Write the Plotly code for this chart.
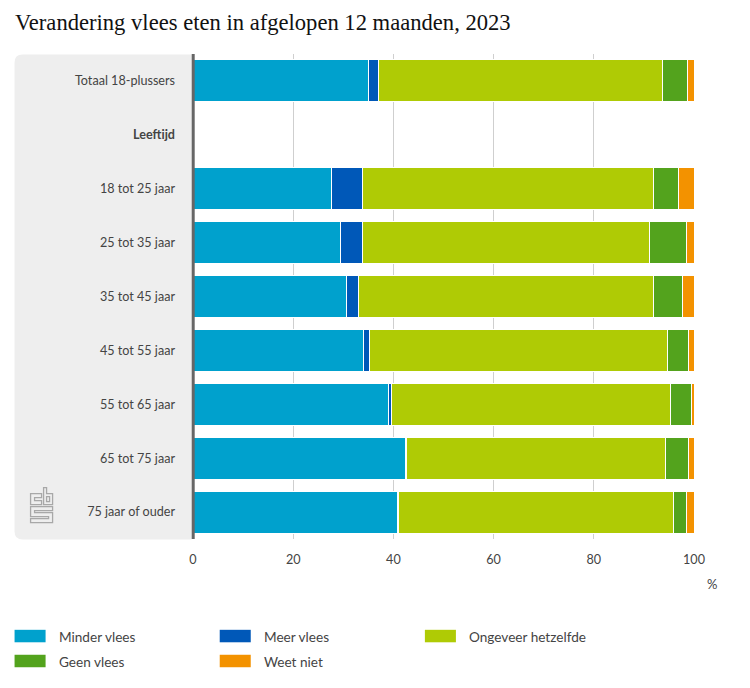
import plotly.graph_objects as go

categories = ["Totaal 18-plussers", "<b>Leeftijd</b>", "18 tot 25 jaar", "25 tot 35 jaar", "35 tot 45 jaar",
              "45 tot 55 jaar", "55 tot 65 jaar", "65 tot 75 jaar", "75 jaar of ouder"]
minder = [35.0, None, 27.7, 29.4, 30.7, 34.0, 39.0, 42.4, 40.9]
meer = [2.0, None, 6.2, 4.5, 2.4, 1.2, 0.7, 0.2, 0.2]
zelfde = [56.7, None, 58.1, 57.2, 58.9, 59.6, 55.7, 51.8, 54.9]
geen = [5.0, None, 4.9, 7.5, 5.8, 4.1, 4.1, 4.5, 2.6]
weet = [1.3, None, 3.1, 1.4, 2.2, 1.1, 0.5, 1.1, 1.4]
series = [("Minder vlees", minder, "#00a1cd"), ("Meer vlees", meer, "#0058b8"),
          ("Ongeveer hetzelfde", zelfde, "#afcb05"), ("Geen vlees", geen, "#53a31d"),
          ("Weet niet", weet, "#f39200")]
ticks = [0, 20, 40, 60, 80, 100]

OFF = 8  # page margin of the browser
W, H = 750 - OFF, 688 - OFF
L, R, T, B = 193.3, 693.9, 53.5, 539.5
FONT = "Lato"
TXT = "#444444"

def px(x):
    return (x - L) / (R - L)

def py(y):
    return (B - y) / (B - T)

fig = go.Figure()
for name, vals, col in series:
    fig.add_trace(go.Bar(y=categories, x=vals, name=name, orientation="h",
                         marker=dict(color=col, line=dict(color="white", width=1)),
                         showlegend=False))

shapes = []
# grey label panel, rounded on the left
x0, x1, y0, y1 = px(15), px(192), py(54), py(540)
rx, ry = 8 / (R - L), 8 / (B - T)
shapes.append(dict(type="path", xref="paper", yref="paper", layer="below", line=dict(width=0),
                   fillcolor="#eeeeee",
                   path=f"M {x1} {y0} L {x0+rx} {y0} Q {x0} {y0} {x0} {y0-ry} L {x0} {y1+ry} Q {x0} {y1} {x0+rx} {y1} L {x1} {y1} Z"))
# axis line on top of the bars
shapes.append(dict(type="line", xref="paper", yref="paper", x0=px(193.5), x1=px(193.5), y0=0, y1=1,
                   line=dict(color="#666666", width=3)))

# CBS logo
def logo(points):
    return "M " + " L ".join(f"{px(a)} {py(b)}" for a, b in points) + " Z"

logo_paths = [
    [(42, 494), (31, 494), (31, 505), (42, 505), (42, 501), (35, 501), (35, 498), (42, 498)],
    [(44, 488), (47, 488), (47, 494), (53, 494), (53, 505), (44, 505)],
    [(47, 497), (50, 497), (50, 502), (47, 502)],
    [(31, 507), (53, 507), (53, 511), (35, 511), (35, 513), (53, 513), (53, 523), (31, 523),
     (31, 519), (49, 519), (49, 517), (31, 517)],
]
for p in logo_paths:
    shapes.append(dict(type="path", xref="paper", yref="paper", path=logo(p),
                       line=dict(color="#a8a8a8", width=1.3)))

annotations = [dict(text="Verandering vlees eten in afgelopen 12 maanden, 2023", xref="paper", yref="paper",
                    x=px(13), y=py(22), xanchor="left", yanchor="middle", showarrow=False,
                    font=dict(family="Liberation Serif", size=22.6, color="#111111")),
               dict(text="%", xref="paper", yref="paper", x=px(712), y=py(585), xanchor="center",
                    yanchor="middle", showarrow=False, font=dict(family=FONT, size=13, color=TXT))]

legend_items = [("Minder vlees", "#00a1cd", 15, 637), ("Meer vlees", "#0058b8", 220, 637),
                ("Ongeveer hetzelfde", "#afcb05", 425, 637), ("Geen vlees", "#53a31d", 15, 662),
                ("Weet niet", "#f39200", 220, 662)]
for name, col, lx, ly in legend_items:
    shapes.append(dict(type="rect", xref="paper", yref="paper", x0=px(lx), x1=px(lx + 31),
                       y0=py(ly - 6.5), y1=py(ly + 6), fillcolor=col, line=dict(width=0)))
    annotations.append(dict(text=name, xref="paper", yref="paper", x=px(lx + 42), y=py(ly + 1),
                            xanchor="left", yanchor="middle", showarrow=False,
                            font=dict(family=FONT, size=13.6, color=TXT)))

fig.update_layout(
    width=W, height=H, autosize=False, barmode="stack", bargap=0.22, paper_bgcolor="white",
    plot_bgcolor="white", margin=dict(l=L - OFF, r=W - (R - OFF), t=T - OFF, b=H - (B - OFF), pad=0),
    font=dict(family=FONT, size=12.6, color=TXT), shapes=shapes, annotations=annotations,
    xaxis=dict(range=[0, 100], tickvals=ticks, showgrid=True, gridcolor="#cfcfcf", gridwidth=1,
               zeroline=False, ticks="", tickfont=dict(family=FONT, size=12.6, color=TXT), ticklabelstandoff=11),
    yaxis=dict(categoryorder="array", categoryarray=categories, autorange="reversed", showgrid=False,
               zeroline=False, showline=False, ticks="",
               ticklabelstandoff=17, tickfont=dict(family=FONT, size=12.6, color=TXT)),
)
fig.write_html("out.html")
